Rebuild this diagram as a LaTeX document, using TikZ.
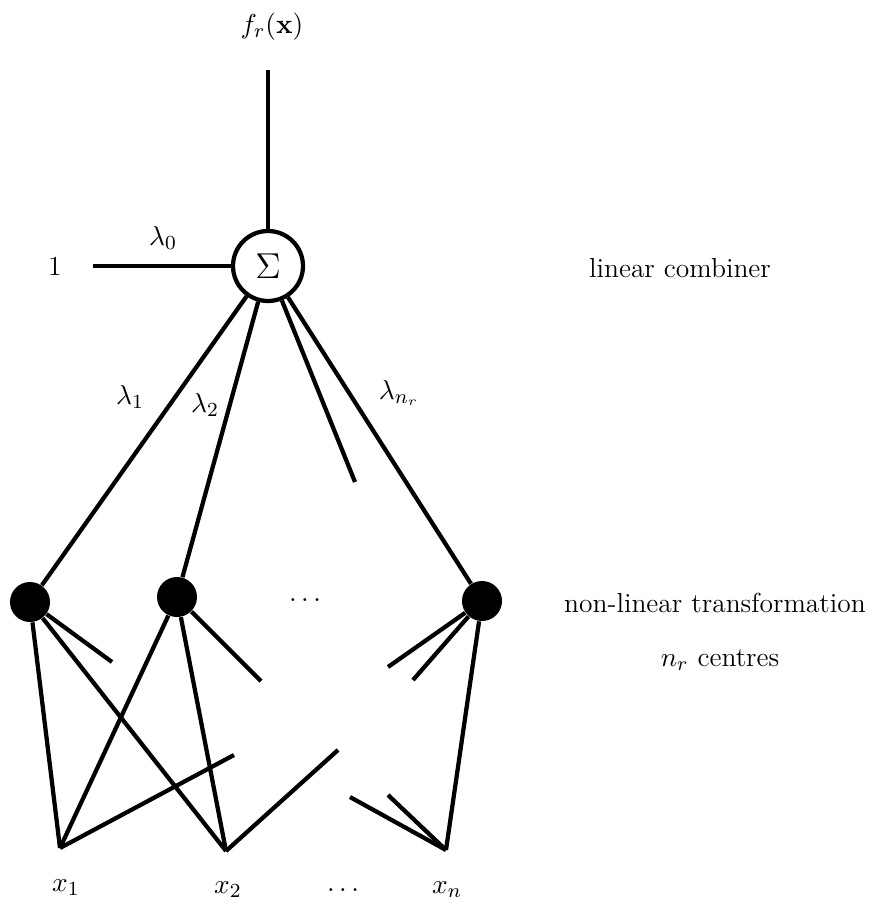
\documentclass[tikz,border=0pt]{standalone}
\usetikzlibrary{positioning}
\begin{document}
\begin{tikzpicture}[
		x=0.4pt, y=-0.4pt,
		wire/.style={line width=1.7pt},
		sumnode/.style={draw, circle, line width=1.7pt, minimum size=28pt, inner sep=0pt, font=\Large},
		unit/.style={circle, fill=black, minimum size=16pt, inner sep=0pt},
		lbl/.style={font=\fontsize{11}{13}\selectfont}
	]
	\useasboundingbox (0,0) rectangle (879,907);
	% output layer
	\node[sumnode] (sum) at (268,266) {$\Sigma$};
	\coordinate (top) at (268,70);
	\node[lbl] (out) at (272,27) {$f_r(\mathbf{x})$};
	\coordinate (inp) at (93,266);
	\node[lbl, left=9pt of inp] (one) {1};
	\node[lbl] (lam0) at (163,238) {$\lambda_0$};
	\node[lbl] (comb) at (680,268) {linear combiner};

	% hidden layer
	\node[unit] (c1) at (30,602) {};
	\node[unit] (c2) at (177,597) {};
	\node[unit] (c3) at (482,601) {};
	\node[lbl] (hdots) at (305,600) {$\dots$};
	\coordinate (sstub) at (355,482);
	\node[lbl] (lam1) at (130,397) {$\lambda_1$};
	\node[lbl] (lam2) at (205,405) {$\lambda_2$};
	\node[lbl] (lamn) at (399,393) {$\lambda_{n_r}$};
	\node[lbl] (nonlin) at (715,603) {non-linear transformation};
	\node[lbl] (centres) at (720,660) {$n_r$ centres};

	% inputs
	\coordinate (x1) at (60,848);
	\coordinate (x2) at (226,851);
	\coordinate (xn) at (446,850);
	\node[lbl] (lx1) at (66,888) {$x_1$};
	\node[lbl] (lx2) at (228,890) {$x_2$};
	\node[lbl] (ldots) at (343,890) {$\dots$};
	\node[lbl] (lxn) at (447,890) {$x_n$};

	% free ends
	\coordinate (s1) at (112,662);
	\coordinate (s2) at (261,681);
	\coordinate (s3) at (388,667);
	\coordinate (s4) at (413,680);
	\coordinate (t1) at (234,755);
	\coordinate (t2) at (338,750);
	\coordinate (t3) at (350,797);
	\coordinate (t4) at (388,795);

	\draw[wire] (sum) -- (top);
	\draw[wire] (inp) -- (sum);
	\draw[wire] (sum) -- (c1);
	\draw[wire] (sum) -- (c2);
	\draw[wire] (sum) -- (sstub);
	\draw[wire] (sum) -- (c3);

	\draw[wire] (c1) -- (x1);
	\draw[wire] (c1) -- (x2);
	\draw[wire] (c1) -- (s1);
	\draw[wire] (c2) -- (x1);
	\draw[wire] (c2) -- (x2);
	\draw[wire] (c2) -- (s2);
	\draw[wire] (c3) -- (xn);
	\draw[wire] (c3) -- (s3);
	\draw[wire] (c3) -- (s4);
	\draw[wire] (x1) -- (t1);
	\draw[wire] (x2) -- (t2);
	\draw[wire] (xn) -- (t3);
	\draw[wire] (xn) -- (t4);
\end{tikzpicture}
\end{document}
